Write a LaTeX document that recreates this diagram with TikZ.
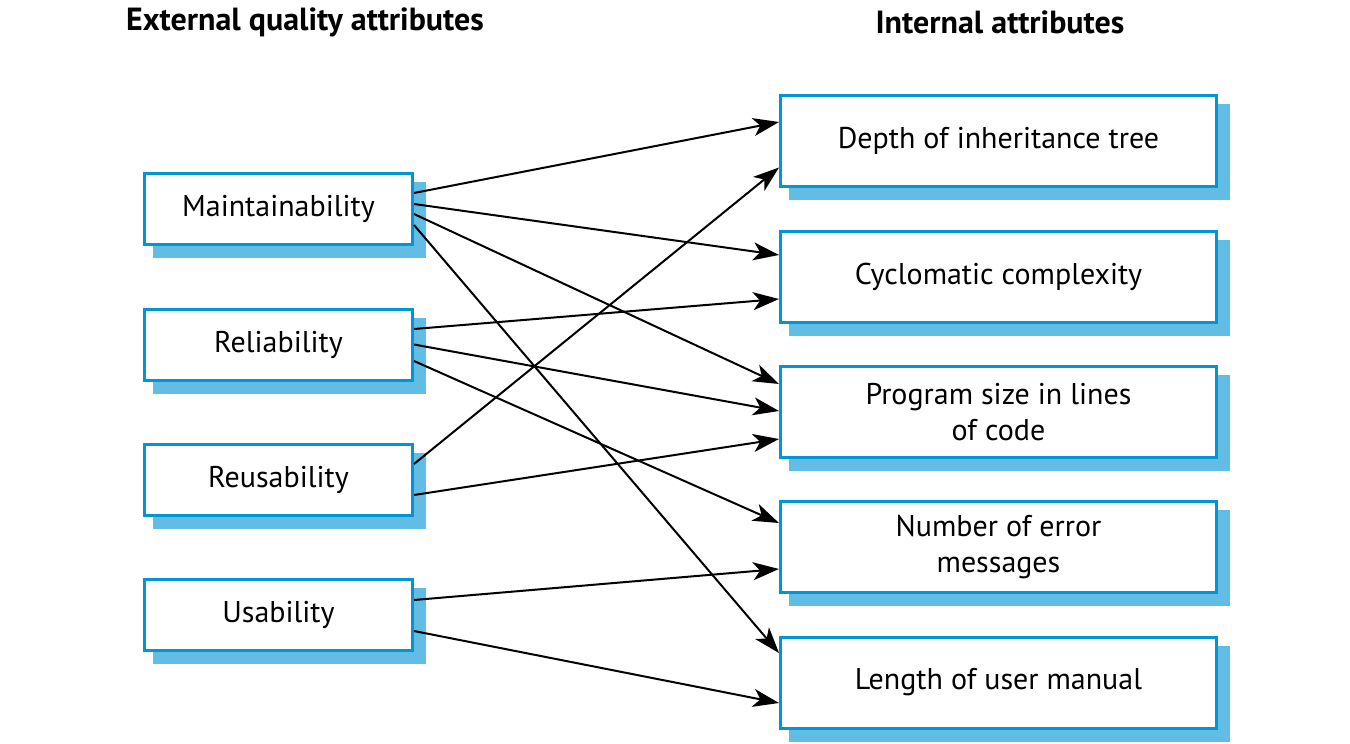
\documentclass[tikz,border=0pt]{standalone}
\usepackage{fontspec}
\setmainfont{PT Sans}
\usetikzlibrary{arrows.meta,backgrounds}
\definecolor{boxblue}{RGB}{0,150,214}
\definecolor{shadowblue}{RGB}{98,189,228}
\begin{document}
\begin{tikzpicture}[x=1pt,y=-1pt,
  attr/.style={draw=boxblue, line width=3pt, fill=white, rectangle, align=center,
    font=\fontsize{30}{36}\selectfont, inner sep=0pt},
  leftbox/.style={attr, minimum width=268pt, minimum height=71pt},
  rightbox/.style={attr, minimum width=436pt, minimum height=91pt},
  title/.style={font=\fontsize{32}{38}\selectfont\bfseries},
  link/.style={line width=2pt, -{Stealth[length=26pt,width=18pt,inset=7pt]}}]
\useasboundingbox (0,0) rectangle (1350,744);
\node[title] (t1) at (305,22) {External quality attributes};
\node[title] (t2) at (1000,22) {Internal attributes};

\node[leftbox] (m) at (278.5,209) {Maintainability};
\node[leftbox] (rl) at (278.5,344.5) {Reliability};
\node[leftbox] (ru) at (278.5,479.5) {Reusability};
\node[leftbox] (u) at (278.5,615) {Usability};

\node[rightbox] (d) at (998.5,141) {Depth of inheritance tree};
\node[rightbox] (c) at (998.5,276.5) {Cyclomatic complexity};
\node[rightbox] (p) at (998.5,412) {Program size in lines\\of code};
\node[rightbox] (n) at (998.5,547) {Number of error\\messages};
\node[rightbox] (l) at (998.5,682.5) {Length of user manual};

\begin{scope}[on background layer]
  \foreach \b in {m,rl,ru,u,d,c,p,n,l}{
    \fill[shadowblue] ([shift={(10,10)}]\b.north west) rectangle ([shift={(12,12)}]\b.south east);
  }
\end{scope}

\draw[link] ([shift={(0,-16)}]m.east) -- ([shift={(0,-19)}]d.west);
\draw[link] ([shift={(0,-5)}]m.east) -- ([shift={(0,-21.5)}]c.west);
\draw[link] ([shift={(0,5)}]m.east) -- ([shift={(0,-28)}]p.west);
\draw[link] ([shift={(0,16)}]m.east) -- ([shift={(0,-29.5)}]l.west);

\draw[link] ([shift={(0,-15.5)}]rl.east) -- ([shift={(0,22.5)}]c.west);
\draw[link] ([shift={(0,0)}]rl.east) -- ([shift={(0,-1)}]p.west);
\draw[link] ([shift={(0,16.5)}]rl.east) -- ([shift={(0,-24)}]n.west);

\draw[link] ([shift={(0,-15.5)}]ru.east) -- ([shift={(0,26.5)}]d.west);
\draw[link] ([shift={(0,15.5)}]ru.east) -- ([shift={(0,27)}]p.west);

\draw[link] ([shift={(0,-15)}]u.east) -- ([shift={(0,22)}]n.west);
\draw[link] ([shift={(0,16)}]u.east) -- ([shift={(0,20.5)}]l.west);
\end{tikzpicture}
\end{document}
